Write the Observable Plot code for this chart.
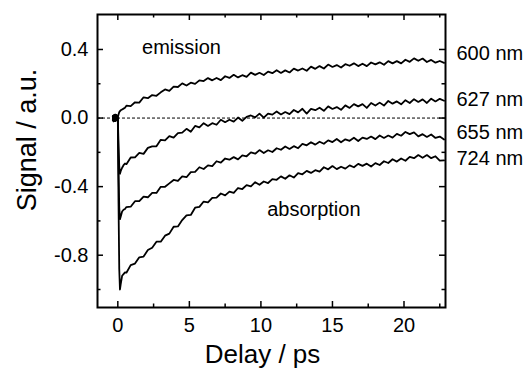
<!DOCTYPE html>
<html>
<head>
<meta charset="utf-8">
<script src="https://cdn.jsdelivr.net/npm/d3@7"></script>
<script src="https://cdn.jsdelivr.net/npm/@observablehq/plot@0.6"></script>
<style>
  html, body { margin: 0; padding: 0; background: #fff; }
  svg { display: block; }
</style>
</head>
<body>
<script>
// Delay times (ps)
const time = [-0.35,-0.3,-0.25,-0.2,-0.15,-0.1,-0.05,0,0.05,0.1,0.15,0.2,0.3,0.4,0.5,
  0.6,0.9,1.2,1.5,1.8,2.1,2.4,2.7,3.0,3.3,3.6,3.9,4.2,4.5,4.8,5.1,5.4,5.7,6.0,6.3,6.6,6.9,7.2,7.5,7.8,
  8.1,8.4,8.7,9.0,9.3,9.6,9.9,10.2,10.5,10.8,11.1,11.4,11.7,12.0,12.3,12.6,12.9,13.2,13.5,13.8,14.1,14.4,
  14.7,15.0,15.3,15.6,15.9,16.2,16.5,16.8,17.1,17.4,17.7,18.0,18.3,18.6,18.9,19.2,19.5,19.8,20.1,20.4,
  20.7,21.0,21.3,21.6,21.9,22.2,22.5,22.8];

// Signal (a.u.) per probe wavelength
const s600 = [0.012,-0.015,0.018,-0.008,0.02,-0.012,0.01,0.005,0.02,0.035,0.04,0.045,0.05,0.055,0.06,
  0.072,0.070,0.092,0.090,0.121,0.116,0.134,0.130,0.150,0.167,0.159,0.183,0.181,0.202,0.190,0.206,0.199,0.220,0.216,0.233,
  0.220,0.234,0.221,0.244,0.234,0.252,0.237,0.250,0.240,0.265,0.252,0.264,0.251,0.271,0.262,0.279,0.263,0.278,0.266,0.288,
  0.277,0.289,0.276,0.300,0.287,0.303,0.289,0.312,0.298,0.309,0.295,0.314,0.305,0.319,0.303,0.317,0.303,0.324,0.313,0.325,
  0.311,0.332,0.319,0.332,0.319,0.340,0.328,0.348,0.334,0.347,0.327,0.339,0.323,0.333,0.322];
const s627 = [-0.01,0.016,-0.018,0.01,-0.014,0.019,-0.006,0,-0.15,-0.28,-0.325,-0.31,-0.29,-0.275,-0.265,
  -0.269,-0.230,-0.229,-0.203,-0.209,-0.174,-0.165,-0.165,-0.127,-0.130,-0.105,-0.114,-0.088,-0.085,-0.063,-0.080,-0.046,
  -0.054,-0.030,-0.046,-0.030,-0.039,-0.010,-0.024,-0.010,-0.021,0.003,-0.016,0.007,0.015,0.004,0.026,0.002,0.026,0.020,
  0.038,0.021,0.035,0.023,0.047,0.033,0.054,0.026,0.053,0.046,0.060,0.042,0.068,0.053,0.064,0.048,0.074,0.059,0.081,0.068,
  0.081,0.059,0.088,0.073,0.090,0.073,0.100,0.084,0.097,0.080,0.104,0.088,0.110,0.094,0.109,0.088,0.113,0.097,0.112,0.101];
const s655 = [0.008,-0.02,0.014,-0.016,0.012,-0.01,0.015,0,-0.3,-0.52,-0.59,-0.575,-0.545,-0.535,-0.53,
  -0.519,-0.517,-0.485,-0.485,-0.458,-0.462,-0.436,-0.437,-0.401,-0.401,-0.381,-0.361,-0.367,-0.340,-0.345,-0.315,-0.314,
  -0.287,-0.297,-0.276,-0.280,-0.252,-0.260,-0.236,-0.243,-0.228,-0.241,-0.218,-0.223,-0.200,-0.208,-0.187,-0.204,-0.188,
  -0.198,-0.176,-0.185,-0.166,-0.180,-0.164,-0.176,-0.151,-0.159,-0.141,-0.155,-0.138,-0.150,-0.130,-0.140,-0.122,-0.141,
  -0.124,-0.133,-0.115,-0.134,-0.114,-0.122,-0.108,-0.123,-0.102,-0.116,-0.102,-0.114,-0.092,-0.103,-0.081,-0.094,-0.084,
  -0.107,-0.094,-0.110,-0.096,-0.116,-0.108,-0.125];
const s724 = [-0.014,0.01,-0.01,0.02,-0.018,0.008,-0.012,0,-0.5,-0.88,-1.0,-0.97,-0.92,-0.91,-0.90,
  -0.902,-0.858,-0.849,-0.812,-0.808,-0.770,-0.756,-0.721,-0.721,-0.686,-0.674,-0.634,-0.632,-0.595,-0.568,-0.565,-0.523,
  -0.518,-0.487,-0.492,-0.466,-0.464,-0.440,-0.451,-0.429,-0.436,-0.408,-0.414,-0.391,-0.398,-0.374,-0.389,-0.370,-0.379,
  -0.356,-0.360,-0.340,-0.354,-0.334,-0.347,-0.321,-0.328,-0.308,-0.320,-0.304,-0.312,-0.287,-0.299,-0.280,-0.298,-0.284,
  -0.295,-0.276,-0.287,-0.267,-0.279,-0.266,-0.283,-0.263,-0.274,-0.252,-0.262,-0.240,-0.254,-0.236,-0.249,-0.226,-0.234,
  -0.216,-0.232,-0.216,-0.234,-0.223,-0.248,-0.247];

const seriesNames = ["600 nm", "627 nm", "655 nm", "724 nm"];
const seriesValues = [s600, s627, s655, s724];
const seriesLabelY = [0.377, 0.108, -0.085, -0.238];

const xTicks = [0, 5, 10, 15, 20];
const xTickLabels = ["0", "5", "10", "15", "20"];
const xMinorTicks = [2.5, 7.5, 12.5, 17.5, 22.5];
const yTicks = [-0.8, -0.4, 0, 0.4];
const yTickLabels = ["-0.8", "-0.4", "0.0", "0.4"];
const yMinorTicks = [-1.0, -0.6, -0.2, 0.2];

const annotations = [
  {t: 4.45, v: 0.413, text: "emission"},
  {t: 13.7, v: -0.534, text: "absorption"}
];

const data = seriesValues.flatMap((vals, i) =>
  time.map((t, j) => ({t, v: vals[j], k: seriesNames[i]})).filter(d => d.v !== undefined));

const W = 523, H = 370, mL = 97, mR = 78, mT = 14, mB = 63;
const pw = W - mL - mR, ph = H - mT - mB;
const major = 6, minor = 3.5;
const font = "'Liberation Sans', Arial, Helvetica, sans-serif";
const fs = 20;

const chart = Plot.plot({
  width: W, height: H,
  marginLeft: mL, marginRight: mR, marginTop: mT, marginBottom: mB,
  x: {domain: [-1.42, 22.9], axis: null},
  y: {domain: [-1.105, 0.604], axis: null},
  style: {fontFamily: font, background: "#fff", color: "#000", overflow: "visible"},
  marks: [
    Plot.ruleY([0], {stroke: "#000", strokeWidth: 1, strokeDasharray: "3,2"}),
    Plot.line(data, {x: "t", y: "v", z: "k", stroke: "#000", strokeWidth: 1.8, strokeLinejoin: "round"}),
    // inward ticks on all four sides
    Plot.tickX(xTicks, {x: d => d, insetTop: ph - major, stroke: "#000", strokeWidth: 1.5}),
    Plot.tickX(xTicks, {x: d => d, insetBottom: ph - major, stroke: "#000", strokeWidth: 1.5}),
    Plot.tickX(xMinorTicks, {x: d => d, insetTop: ph - minor, stroke: "#000", strokeWidth: 1.5}),
    Plot.tickX(xMinorTicks, {x: d => d, insetBottom: ph - minor, stroke: "#000", strokeWidth: 1.5}),
    Plot.tickY(yTicks, {y: d => d, insetRight: pw - major, stroke: "#000", strokeWidth: 1.5}),
    Plot.tickY(yTicks, {y: d => d, insetLeft: pw - major, stroke: "#000", strokeWidth: 1.5}),
    Plot.tickY(yMinorTicks, {y: d => d, insetRight: pw - minor, stroke: "#000", strokeWidth: 1.5}),
    Plot.tickY(yMinorTicks, {y: d => d, insetLeft: pw - minor, stroke: "#000", strokeWidth: 1.5}),
    Plot.frame({stroke: "#000", strokeWidth: 2}),
    // tick labels
    Plot.text(xTicks, {x: d => d, frameAnchor: "bottom", lineAnchor: "top", dy: 10,
      text: (d, i) => xTickLabels[i], fontSize: fs, fill: "#000"}),
    Plot.text(yTicks, {y: d => d, frameAnchor: "left", textAnchor: "end", lineAnchor: "middle", dx: -9,
      text: (d, i) => yTickLabels[i], fontSize: fs, fill: "#000"}),
    // series labels at right
    Plot.text(seriesNames, {y: (d, i) => seriesLabelY[i], frameAnchor: "right", textAnchor: "start", lineAnchor: "middle", dx: 11,
      text: d => d, fontSize: fs, fill: "#000"}),
    // annotations
    Plot.text(annotations, {x: "t", y: "v", text: "text", fontSize: fs, fill: "#000"}),
    // axis titles
    Plot.text(["Delay / ps"], {frameAnchor: "bottom", textAnchor: "middle", lineAnchor: "middle", dy: 47, dx: -9,
      text: d => d, fontSize: 26, fill: "#000"}),
    Plot.text(["Signal / a.u."], {frameAnchor: "left", textAnchor: "middle", lineAnchor: "middle", dx: -70, dy: -21, rotate: -90,
      text: d => d, fontSize: 27, fill: "#000"})
  ]
});
document.body.appendChild(chart);
</script>
</body>
</html>
